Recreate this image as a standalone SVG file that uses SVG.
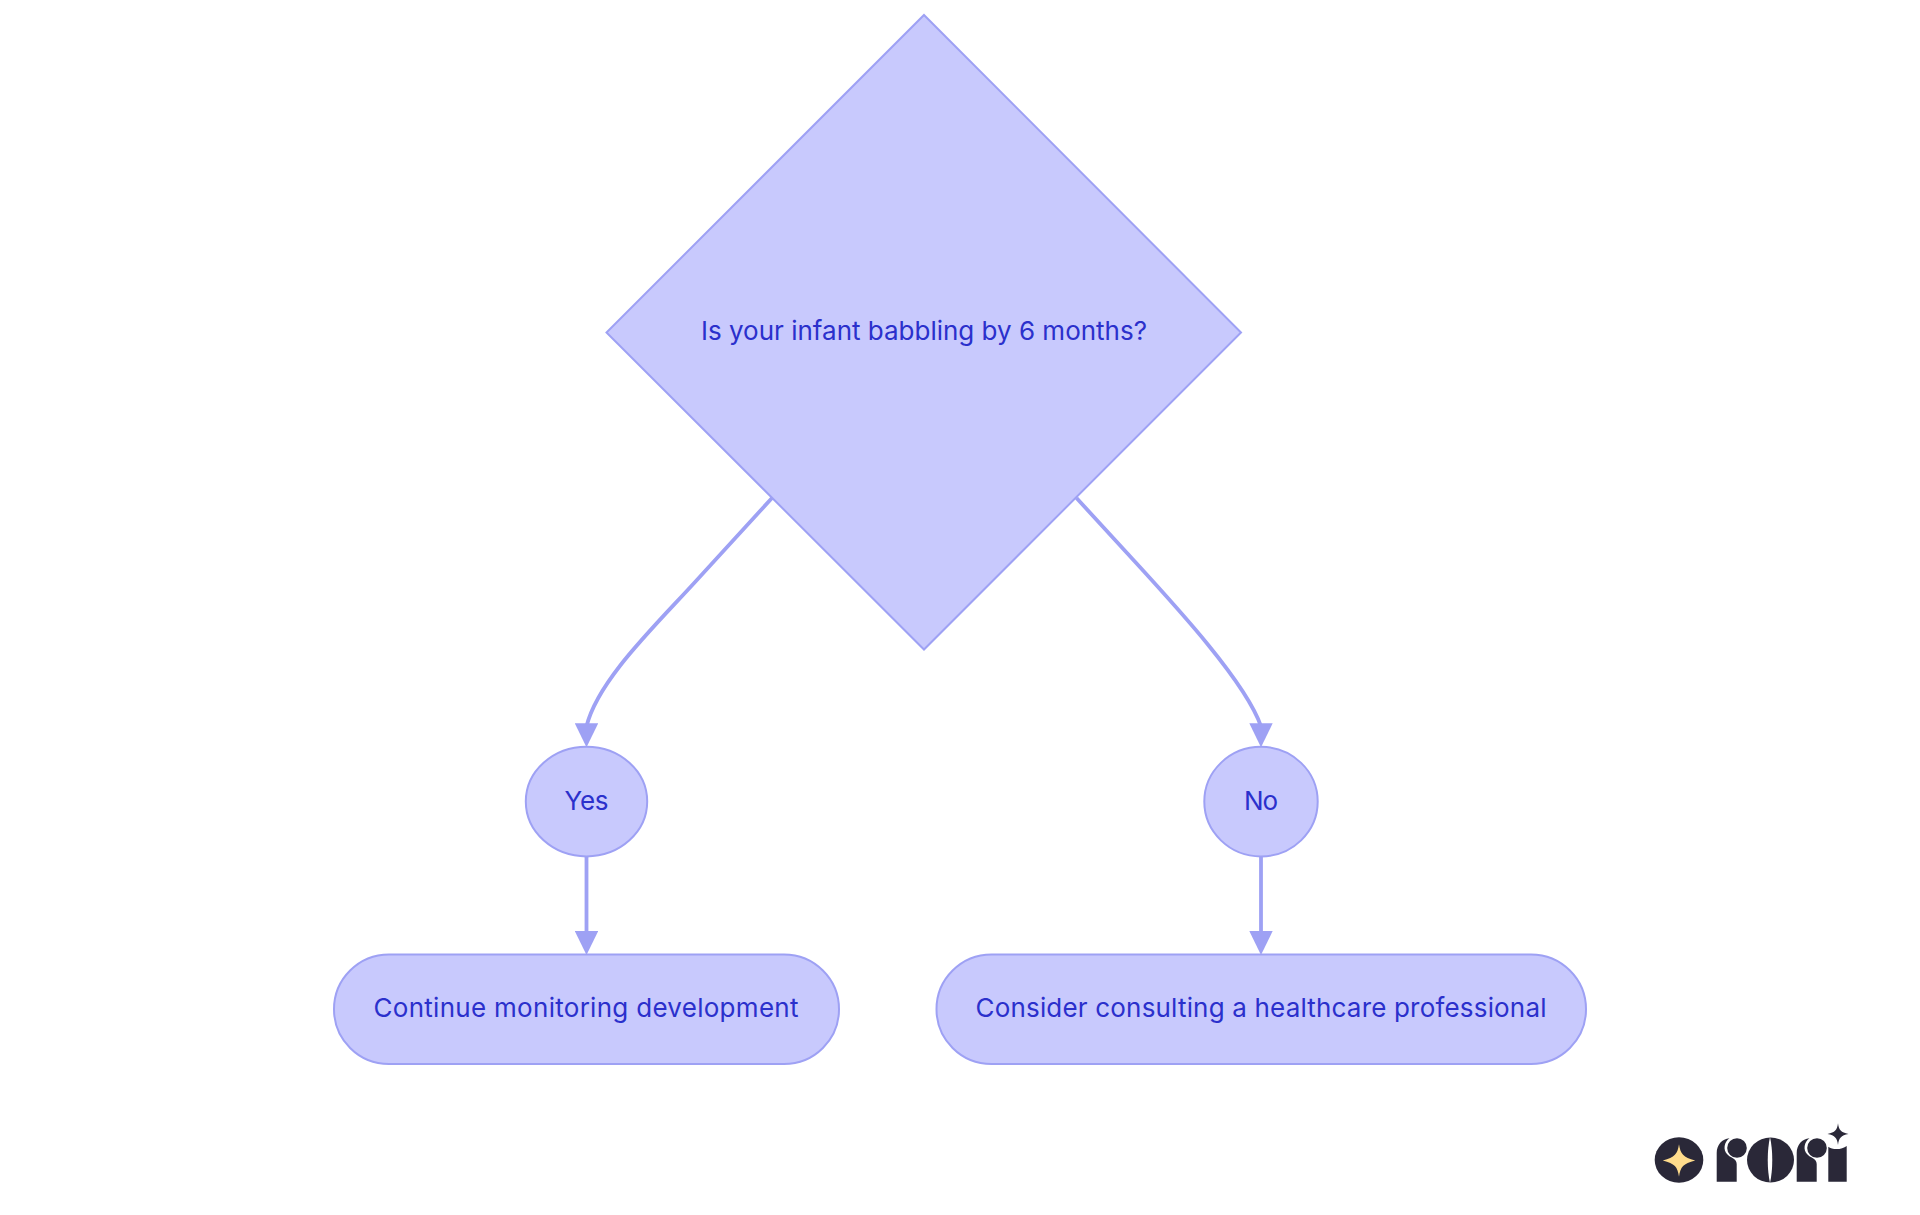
<svg xmlns="http://www.w3.org/2000/svg" width="1920" height="1215" viewBox="0 0 1920 1215">
<style>
.n{fill:#c8c9fd;stroke:#9ea1f4;stroke-width:2}
.t{font-family:"Inter","Noto Sans","Liberation Sans",sans-serif;font-size:26px;fill:#2b30cc;text-anchor:middle}
.e{fill:none;stroke:#9ea1f4;stroke-width:3.8;marker-end:url(#a)}
.k{fill:#2a2838}
</style>
<defs>
<marker id="a" markerUnits="userSpaceOnUse" viewBox="0 0 24 23.4" markerWidth="24" markerHeight="23.4" refX="3" refY="11.7" orient="90"><path d="M0 0L24 11.7L0 23.4Z" fill="#9ea1f4"/></marker>
</defs>
<rect width="1920" height="1215" fill="#fff"/>
<g id="connectors">
<path class="e" d="M772 498L696 581C655 626 598 680 586.5 726.3"/>
<path class="e" d="M1076.5 498L1127 553C1170 600 1245 680 1261 726.3"/>
<path class="e" d="M586.5 857V934"/>
<path class="e" d="M1261 857V934"/>
</g>
<g id="node-question">
<path class="n" d="M924 15L1241 332.5L924 649.5L606.5 332.5Z"/>
<text class="t" x="924" y="340" textLength="446" lengthAdjust="spacing">Is your infant babbling by 6 months?</text>
</g>
<g id="node-yes">
<ellipse class="n" cx="586.5" cy="801.6" rx="60.7" ry="54.8"/>
<text class="t" x="586.5" y="809.5" textLength="44" lengthAdjust="spacing">Yes</text>
</g>
<g id="node-no">
<ellipse class="n" cx="1261" cy="801.6" rx="56.7" ry="54.8"/>
<text class="t" x="1261" y="809.5" textLength="34" lengthAdjust="spacing">No</text>
</g>
<g id="node-continue">
<rect class="n" x="334" y="954.5" width="505" height="109.5" rx="55" ry="55"/>
<text class="t" x="586" y="1016.5" textLength="425" lengthAdjust="spacing">Continue monitoring development</text>
</g>
<g id="node-consult">
<rect class="n" x="936.5" y="954.5" width="649.5" height="109.5" rx="55" ry="55"/>
<text class="t" x="1261" y="1016.5" textLength="571" lengthAdjust="spacing">Consider consulting a healthcare professional</text>
</g>
<g id="logo">
<ellipse class="k" cx="1679" cy="1160" rx="24.3" ry="22.7"/>
<path fill="#ffdc8c" d="M1679 1144.3C1680.5 1154 1683 1157.5 1695.2 1160.5C1683 1163.5 1680.5 1167 1679 1176.7C1677.5 1167 1675 1163.5 1662.8 1160.5C1675 1157.5 1677.5 1154 1679 1144.3Z"/>
<path class="k" d="M1716.7 1181.7V1153C1716.7 1145 1722 1139 1729.5 1138.3C1724 1142 1723 1150 1727 1154C1730 1158 1736.7 1158 1736.7 1164V1181.7Z"/>
<circle class="k" cx="1737" cy="1148" r="9.8"/>
<ellipse class="k" cx="1770.5" cy="1160" rx="23.5" ry="22.5"/>
<path fill="#fff" d="M1770 1137C1767 1150 1767 1170 1770 1183C1773 1170 1773 1150 1770 1137Z"/>
<path class="k" d="M1796.7 1181.7V1153C1796.7 1145 1802 1139 1809.5 1138.3C1804 1142 1803 1150 1807 1154C1810 1158 1816.7 1158 1816.7 1164V1181.7Z"/>
<circle class="k" cx="1817" cy="1148" r="9.8"/>
<path class="k" d="M1828.3 1146.7C1832 1150 1842 1150 1846.7 1146V1181.7H1828.3Z"/>
<path class="k" d="M1838 1123.3C1838.8 1130 1841 1132.5 1848.5 1134C1841 1135.5 1838.8 1138 1838 1145C1837.2 1138 1835 1135.5 1827.5 1134C1835 1132.5 1837.2 1130 1838 1123.3Z"/>
</g>
</svg>
